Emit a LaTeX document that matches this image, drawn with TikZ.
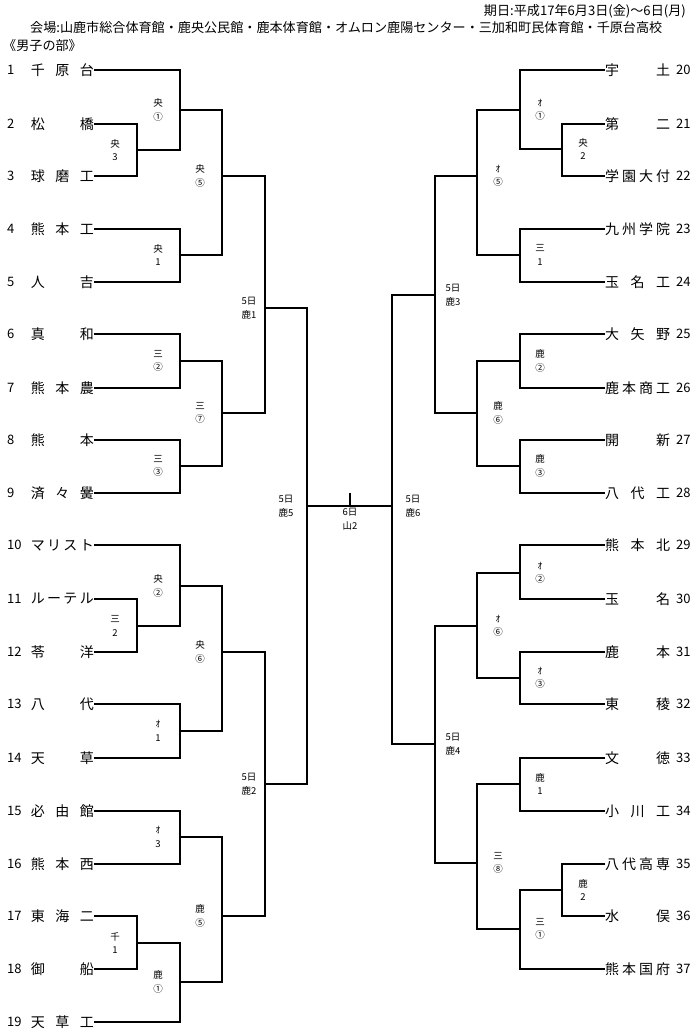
\documentclass[tikz,border=0pt]{standalone}
\usepackage{fontspec}
\setmainfont{Noto Sans CJK JP}
\tikzset{
  br/.style={draw=black, line width=1.1pt},
  nameL/.style={anchor=east, inner sep=0pt, font=\fontsize{14}{14}\selectfont},
  nameR/.style={anchor=west, inner sep=0pt, font=\fontsize{14}{14}\selectfont},
  numL/.style={anchor=west, inner sep=0pt, font=\fontsize{13}{13}\selectfont},
  numR/.style={anchor=west, inner sep=0pt, font=\fontsize{13}{13}\selectfont},
  lbl/.style={align=center, inner sep=0pt, font=\fontsize{9.5}{13.5}\selectfont},
  hdr/.style={inner sep=0pt, font=\fontsize{13.1}{13.1}\selectfont},
}
\newcommand\teamL[3]{%
  \node[numL] (nL#1) at (7,#2) {#1};
  \node[nameL] (t#1) at (94,#2) {\makebox[63pt][s]{#3}};
}
\newcommand\teamR[3]{%
  \node[nameR] (t#1) at (605,#2) {\makebox[65pt][s]{#3}};
  \node[numR] (nR#1) at (676,#2) {#1};
}
\begin{document}
\begin{tikzpicture}[x=1pt,y=-1pt]
\useasboundingbox (0,0) rectangle (700,1036);
\fill[white] (0,0) rectangle (700,1036);
% header
\node[hdr, anchor=east] (h1) at (686,11) {期日:平成17年6月3日(金)～6日(月)};
\node[hdr, anchor=west] (h2) at (30,28) {会場:山鹿市総合体育館・鹿央公民館・鹿本体育館・オムロン鹿陽センター・三加和町民体育館・千原台高校};
\node[hdr, anchor=west] (h3) at (3,46) {《男子の部》};
% left teams
\teamL{1}{70}{千\hfill 原\hfill 台}
\teamL{2}{124}{松\hfill 橋}
\teamL{3}{176}{球\hfill 磨\hfill 工}
\teamL{4}{229}{熊\hfill 本\hfill 工}
\teamL{5}{282}{人\hfill 吉}
\teamL{6}{334}{真\hfill 和}
\teamL{7}{388}{熊\hfill 本\hfill 農}
\teamL{8}{440}{熊\hfill 本}
\teamL{9}{493}{済\hfill 々\hfill 黌}
\teamL{10}{545}{マ\hfill リ\hfill ス\hfill ト}
\teamL{11}{599}{ル\hfill ー\hfill テ\hfill ル}
\teamL{12}{652}{苓\hfill 洋}
\teamL{13}{704}{八\hfill 代}
\teamL{14}{758}{天\hfill 草}
\teamL{15}{811}{必\hfill 由\hfill 館}
\teamL{16}{864}{熊\hfill 本\hfill 西}
\teamL{17}{916}{東\hfill 海\hfill 二}
\teamL{18}{969}{御\hfill 船}
\teamL{19}{1022}{天\hfill 草\hfill 工}
% right teams
\teamR{20}{70}{宇\hfill 土}
\teamR{21}{124}{第\hfill 二}
\teamR{22}{176}{学\hfill 園\hfill 大\hfill 付}
\teamR{23}{229}{九\hfill 州\hfill 学\hfill 院}
\teamR{24}{282}{玉\hfill 名\hfill 工}
\teamR{25}{334}{大\hfill 矢\hfill 野}
\teamR{26}{388}{鹿\hfill 本\hfill 商\hfill 工}
\teamR{27}{440}{開\hfill 新}
\teamR{28}{493}{八\hfill 代\hfill 工}
\teamR{29}{545}{熊\hfill 本\hfill 北}
\teamR{30}{599}{玉\hfill 名}
\teamR{31}{652}{鹿\hfill 本}
\teamR{32}{704}{東\hfill 稜}
\teamR{33}{758}{文\hfill 徳}
\teamR{34}{811}{小\hfill 川\hfill 工}
\teamR{35}{864}{八\hfill 代\hfill 高\hfill 専}
\teamR{36}{916}{水\hfill 俣}
\teamR{37}{969}{熊\hfill 本\hfill 国\hfill 府}
% left match points
\coordinate (mA) at (137,150);
\coordinate (mB) at (180,110);
\coordinate (mC) at (180,255);
\coordinate (mD) at (222,176);
\coordinate (mE) at (180,361);
\coordinate (mF) at (180,466);
\coordinate (mG) at (222,413);
\coordinate (mH) at (265,308);
\coordinate (mI) at (137,626);
\coordinate (mJ) at (180,586);
\coordinate (mK) at (180,731);
\coordinate (mL) at (222,652);
\coordinate (mM) at (180,837);
\coordinate (mN) at (137,943);
\coordinate (mO) at (180,982);
\coordinate (mP) at (222,916);
\coordinate (mQ) at (265,784);
\coordinate (mS) at (307,506);
% right match points
\coordinate (nA) at (562,149);
\coordinate (nB) at (520,110);
\coordinate (nC) at (520,255);
\coordinate (nD) at (477,176);
\coordinate (nE) at (520,361);
\coordinate (nF) at (520,466);
\coordinate (nG) at (477,413);
\coordinate (nH) at (435,295);
\coordinate (nI) at (520,573);
\coordinate (nJ) at (520,678);
\coordinate (nK) at (477,626);
\coordinate (nL) at (520,784);
\coordinate (nM) at (562,890);
\coordinate (nN) at (520,929);
\coordinate (nO) at (477,863);
\coordinate (nP) at (435,744);
\coordinate (nS) at (392,506);
\coordinate (fTop) at (350,493);
% left brackets
\draw[br] (t2.east) -| (mA) (t3.east) -| (mA);
\draw[br] (t1.east) -| (mB) (mA) -| (mB);
\draw[br] (t4.east) -| (mC) (t5.east) -| (mC);
\draw[br] (mB) -| (mD) (mC) -| (mD);
\draw[br] (t6.east) -| (mE) (t7.east) -| (mE);
\draw[br] (t8.east) -| (mF) (t9.east) -| (mF);
\draw[br] (mE) -| (mG) (mF) -| (mG);
\draw[br] (mD) -| (mH) (mG) -| (mH);
\draw[br] (t11.east) -| (mI) (t12.east) -| (mI);
\draw[br] (t10.east) -| (mJ) (mI) -| (mJ);
\draw[br] (t13.east) -| (mK) (t14.east) -| (mK);
\draw[br] (mJ) -| (mL) (mK) -| (mL);
\draw[br] (t15.east) -| (mM) (t16.east) -| (mM);
\draw[br] (t17.east) -| (mN) (t18.east) -| (mN);
\draw[br] (mN) -| (mO) (t19.east) -| (mO);
\draw[br] (mM) -| (mP) (mO) -| (mP);
\draw[br] (mL) -| (mQ) (mP) -| (mQ);
\draw[br] (mH) -| (mS) (mQ) -| (mS);
% right brackets
\draw[br] (t21.west) -| (nA) (t22.west) -| (nA);
\draw[br] (t20.west) -| (nB) (nA) -| (nB);
\draw[br] (t23.west) -| (nC) (t24.west) -| (nC);
\draw[br] (nB) -| (nD) (nC) -| (nD);
\draw[br] (t25.west) -| (nE) (t26.west) -| (nE);
\draw[br] (t27.west) -| (nF) (t28.west) -| (nF);
\draw[br] (nE) -| (nG) (nF) -| (nG);
\draw[br] (nD) -| (nH) (nG) -| (nH);
\draw[br] (t29.west) -| (nI) (t30.west) -| (nI);
\draw[br] (t31.west) -| (nJ) (t32.west) -| (nJ);
\draw[br] (nI) -| (nK) (nJ) -| (nK);
\draw[br] (t33.west) -| (nL) (t34.west) -| (nL);
\draw[br] (t35.west) -| (nM) (t36.west) -| (nM);
\draw[br] (nM) -| (nN) (t37.west) -| (nN);
\draw[br] (nL) -| (nO) (nN) -| (nO);
\draw[br] (nK) -| (nP) (nO) -| (nP);
\draw[br] (nH) -| (nS) (nP) -| (nS);
% final
\draw[br] (mS) -- (nS);
\draw[br] (fTop) -- (fTop |- mS);
% left labels
\node[lbl] (lbA) at (115,150) {央\\3};
\node[lbl] (lbB) at (158,110) {央\\①};
\node[lbl] (lbC) at (158,255) {央\\1};
\node[lbl] (lbD) at (200,176) {央\\⑤};
\node[lbl] (lbE) at (158,361) {三\\②};
\node[lbl] (lbF) at (158,466) {三\\③};
\node[lbl] (lbG) at (200,413) {三\\⑦};
\node[lbl] (lbH) at (249,308) {5日\\鹿1};
\node[lbl] (lbI) at (115,626) {三\\2};
\node[lbl] (lbJ) at (158,586) {央\\②};
\node[lbl] (lbK) at (158,731) {ｵ\\1};
\node[lbl] (lbL) at (200,652) {央\\⑥};
\node[lbl] (lbM) at (158,837) {ｵ\\3};
\node[lbl] (lbN) at (115,943) {千\\1};
\node[lbl] (lbO) at (158,982) {鹿\\①};
\node[lbl] (lbP) at (200,916) {鹿\\⑤};
\node[lbl] (lbQ) at (249,784) {5日\\鹿2};
\node[lbl] (lbS) at (286,506) {5日\\鹿5};
% right labels
\node[lbl] (rbA) at (583,149) {央\\2};
\node[lbl] (rbB) at (540,110) {ｵ\\①};
\node[lbl] (rbC) at (540,255) {三\\1};
\node[lbl] (rbD) at (498,176) {ｵ\\⑤};
\node[lbl] (rbE) at (540,361) {鹿\\②};
\node[lbl] (rbF) at (540,466) {鹿\\③};
\node[lbl] (rbG) at (498,413) {鹿\\⑥};
\node[lbl] (rbH) at (453,295) {5日\\鹿3};
\node[lbl] (rbI) at (540,573) {ｵ\\②};
\node[lbl] (rbJ) at (540,678) {ｵ\\③};
\node[lbl] (rbK) at (498,626) {ｵ\\⑥};
\node[lbl] (rbL) at (540,784) {鹿\\1};
\node[lbl] (rbM) at (583,890) {鹿\\2};
\node[lbl] (rbN) at (540,929) {三\\①};
\node[lbl] (rbO) at (498,863) {三\\⑧};
\node[lbl] (rbP) at (453,744) {5日\\鹿4};
\node[lbl] (rbS) at (413,506) {5日\\鹿6};
\node[lbl] (fin) at (350,519) {6日\\山2};
\end{tikzpicture}
\end{document}
